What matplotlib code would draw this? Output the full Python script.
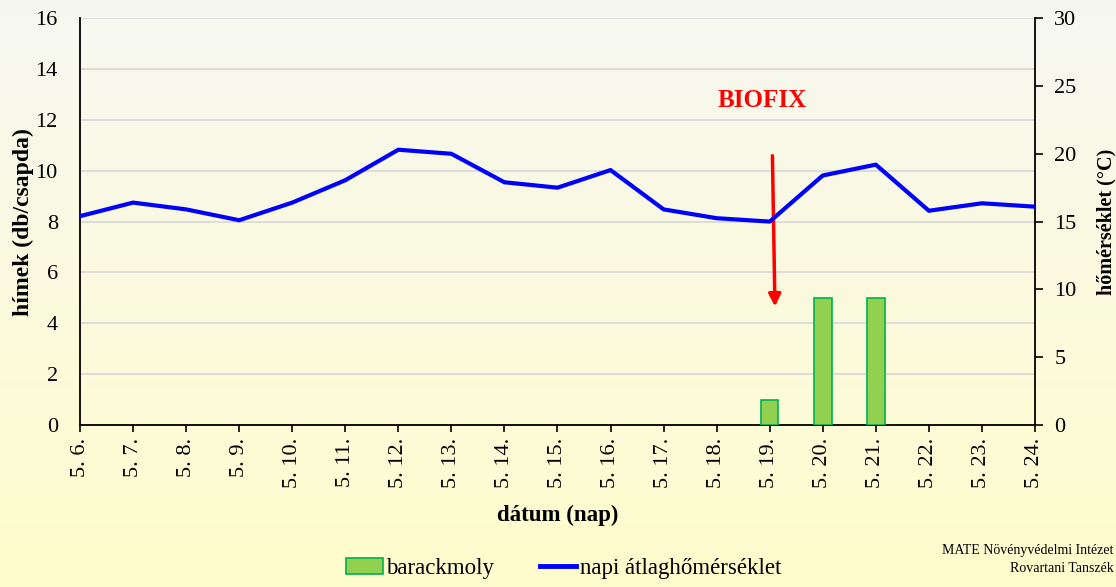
import numpy as np
import matplotlib.pyplot as plt
from matplotlib.patches import Patch
from matplotlib.lines import Line2D

plt.rcParams['font.family'] = ['Liberation Serif', 'DejaVu Serif']

dates = ['5. 6.', '5. 7.', '5. 8.', '5. 9.', '5. 10.', '5. 11.', '5. 12.', '5. 13.',
         '5. 14.', '5. 15.', '5. 16.', '5. 17.', '5. 18.', '5. 19.', '5. 20.', '5. 21.',
         '5. 22.', '5. 23.', '5. 24.']
barackmoly = [0, 0, 0, 0, 0, 0, 0, 0, 0, 0, 0, 0, 0, 1, 5, 5, 0, 0, 0]
temp = [15.4, 16.4, 15.9, 15.1, 16.4, 18.05, 20.3, 20.0, 17.9, 17.5, 18.8,
        15.9, 15.25, 15.0, 18.4, 19.2, 15.8, 16.35, 16.1]

fig = plt.figure(figsize=(11.16, 5.87), dpi=100)

# background gradient over the whole figure
bg = fig.add_axes([0, 0, 1, 1], zorder=-10)
grad = np.linspace(0, 1, 256).reshape(-1, 1)
top = np.array([0.965, 0.968, 0.945])
bot = np.array([1.0, 0.992, 0.80])
img = top + (bot - top) * grad[..., None]
bg.imshow(img, aspect='auto', extent=[0, 1, 0, 1])
bg.axis('off')

ax = fig.add_axes([0.0717, 0.276, 0.8557, 0.693])
ax.set_facecolor('none')
x = np.arange(len(dates))

# zero days have no bar
bars = np.array(barackmoly, dtype=float)
mask = bars > 0
ax.bar(x[mask], bars[mask], width=0.33, color='#92d050', edgecolor='#00b050',
       linewidth=1.2, zorder=3)
ax.set_ylim(0, 16)
ax.set_yticks(range(0, 17, 2))
ax.set_xlim(0, len(dates) - 1)
ax.set_xticks(x)
ax.set_xticklabels(dates, rotation=90, fontsize=16)
ax.tick_params(axis='y', length=0, labelsize=16, pad=16)
ax.tick_params(axis='x', length=5, width=1.2, direction='out', pad=4)
ax.grid(axis='y', color='#d9d9d9', linewidth=1.3, zorder=0)
ax.set_axisbelow(True)
ax.spines['top'].set_visible(False)
ax.spines['right'].set_visible(False)
for s in ['left', 'bottom']:
    ax.spines[s].set_linewidth(1.3)
ax.set_ylabel('hímek (db/csapda)', fontsize=17, fontweight='bold', labelpad=1)
ax.set_xlabel('dátum (nap)', fontsize=16.5, fontweight='bold', labelpad=12)

ax2 = ax.twinx()
ax2.plot(x, temp, color='#0000ff', linewidth=3, zorder=4)
ax2.set_ylim(0, 30)
ax2.set_yticks(range(0, 31, 5))
ax2.tick_params(axis='y', length=6, width=1.2, direction='out', labelsize=16, pad=8)
ax2.spines['right'].set_linewidth(1.3)
ax2.spines['top'].set_visible(False)
ax2.spines['left'].set_visible(False)
ax2.spines['bottom'].set_visible(False)
ax2.set_ylabel('hőmérséklet (°C)', fontsize=14.5, fontweight='bold', labelpad=14)

# BIOFIX annotation
ax.annotate('', xy=(13.1, 4.55), xytext=(13.05, 10.7),
            arrowprops=dict(arrowstyle='-|>', color='#ff0000', lw=2.5, mutation_scale=18),
            zorder=6)
ax.text(12.85, 12.75, 'BIOFIX', color='#ff0000', fontsize=18, fontweight='bold',
        ha='center', va='center')

handles = [Patch(facecolor='#92d050', edgecolor='#00b050', linewidth=1.2),
           Line2D([0], [0], color='#0000ff', linewidth=3.5)]
fig.legend(handles, ['barackmoly', 'napi átlaghőmérséklet'], loc='center',
           bbox_to_anchor=(0.505, 0.032), ncol=2, frameon=False, fontsize=16.5,
           handlelength=1.6, handleheight=0.7, handletextpad=0.15, columnspacing=2.0)

fig.text(0.998, 0.046, 'MATE Növényvédelmi Intézet\nRovartani Tanszék', ha='right',
         va='center', fontsize=10, linespacing=1.5)

fig.savefig('out.png', dpi=100)
